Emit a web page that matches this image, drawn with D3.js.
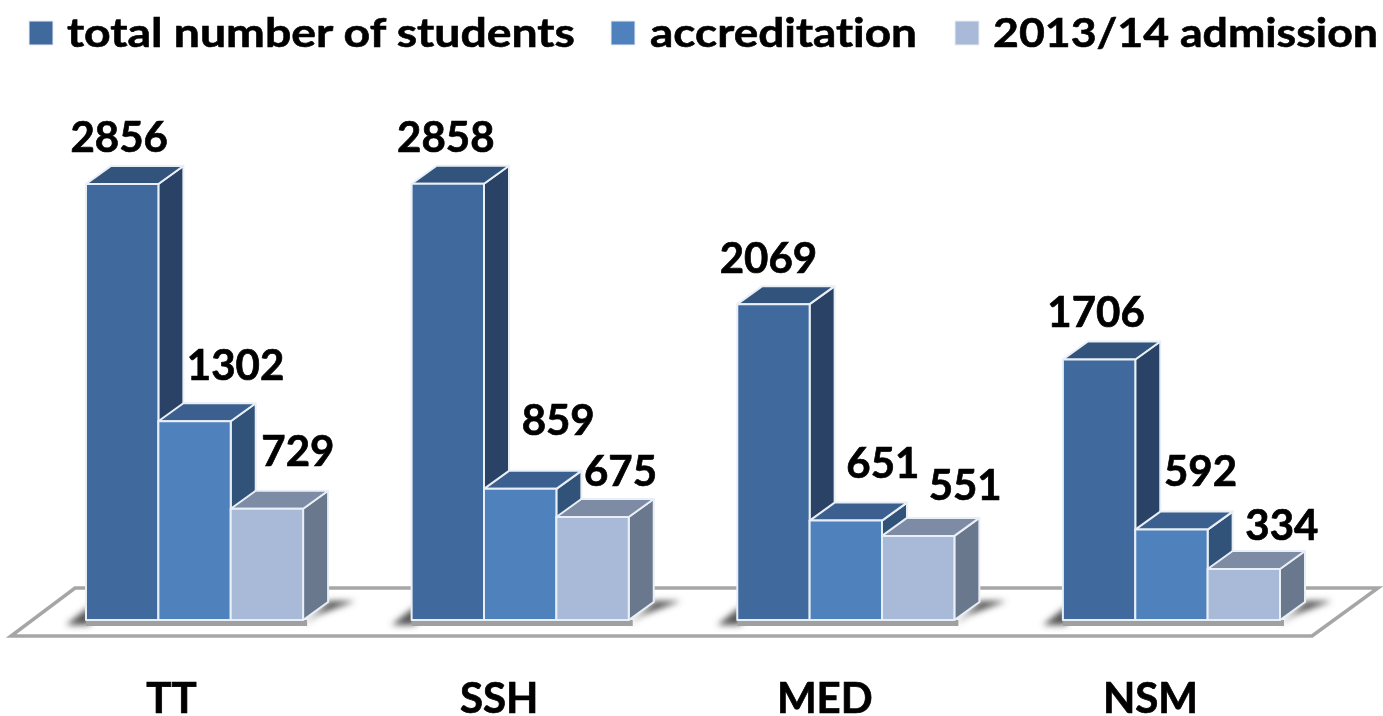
<!DOCTYPE html>
<html><head><meta charset="utf-8">
<script src="https://cdnjs.cloudflare.com/ajax/libs/d3/7.8.5/d3.min.js"></script>
<style>html,body{margin:0;padding:0;background:#fff;overflow:hidden}svg{display:block}text{font-variant-ligatures:none}</style>
</head><body><svg id="c" width="1383" height="716"></svg>
<script>
const categories = ["TT", "SSH", "MED", "NSM"];
const seriesNames = ["total number of students", "accreditation", "2013/14 admission"];
const totalStudents = [2856, 2858, 2069, 1706];
const accreditation = [1302, 859, 651, 592];
const admission = [729, 675, 551, 334];
const seriesValues = [totalStudents, accreditation, admission];

// layout only
const frontColors = ["#3f6a9e", "#4f81bd", "#a9b9d8"];
const topColors = ["#31527c", "#3b608f", "#7e8ba5"];
const sideColors = ["#2a4365", "#325279", "#6a788e"];
const labelNudges = [
  [[-3, -32], [41, -41], [31, -43]],
  [[-2, -32], [38, -54], [28, -31]],
  [[-5, -31], [37, -43], [47, -36]],
  [[-3, -33], [29, -44], [38, -29]]
];
const categoryShift = [-23, -21, -21, -21];
const legendLayout = [
  {sw: 29, tx: 67, w: 508},
  {sw: 611, tx: 650, w: 267},
  {sw: 955, tx: 993, w: 385}
];
const dx = 25, dy = -18, baseY = 620;
const font = "Lato, 'Open Sans', sans-serif";

const svg = d3.select("#c");
const defs = svg.append("defs");
defs.append("filter").attr("id", "soft").attr("x", "-5%").attr("y", "-5%").attr("width", "110%").attr("height", "110%")
  .append("feGaussianBlur").attr("stdDeviation", 0.6);
defs.append("filter").attr("id", "shadow").attr("x", "-40%").attr("y", "-60%").attr("width", "180%").attr("height", "220%")
  .append("feGaussianBlur").attr("stdDeviation", 3);

const root = svg.append("g").attr("filter", "url(#soft)");

const x0 = d3.scaleBand().domain(categories).range([86, 1280]).paddingInner(1 / 3);
const x1 = d3.scaleBand().domain(d3.range(3)).range([0, x0.bandwidth()]);
const y = d3.scaleLinear().domain([0, 2856]).range([baseY, 184]);

// floor
root.append("polygon")
  .attr("points", [[11, 636], [1312, 636], [1378, 588], [75, 588]].join(" "))
  .attr("fill", "#fff").attr("stroke", "#a6a6a6").attr("stroke-width", 3.5);

// shadows under bars
const shadowG = root.append("g");
categories.forEach(c => {
  const l = x0(c), r = l + x0.bandwidth();
  shadowG.append("polygon")
    .attr("points", [[r, 625], [r + 26, 601], [r + 52, 601], [r + 14, 615]].join(" "))
    .attr("fill", "#555").attr("filter", "url(#shadow)");
  shadowG.append("polygon")
    .attr("points", [[l - 20, 625], [l + 4, 625], [l + 4, 606]].join(" "))
    .attr("fill", "#555").attr("filter", "url(#shadow)");
  shadowG.append("rect").attr("x", l).attr("y", 620).attr("width", x0.bandwidth() + 4).attr("height", 6).attr("fill", "#a0a0a0");
});

// bars
const groups = root.selectAll("g.cat").data(categories).join("g").attr("class", "cat")
  .attr("transform", c => `translate(${x0(c)},0)`);
groups.each(function (c, ci) {
  const g = d3.select(this);
  seriesValues.forEach((vals, si) => {
    const v = vals[ci], l = x1(si), r = l + x1.bandwidth(), t = y(v), b = y(0);
    const edge = {stroke: "#e9eff6", "stroke-width": 2, "stroke-linejoin": "round"};
    const side = g.append("polygon").attr("points", [[r, t], [r + dx, t + dy], [r + dx, b + dy], [r, b]].join(" ")).attr("fill", sideColors[si]);
    const top = g.append("polygon").attr("points", [[l, t], [l + dx, t + dy], [r + dx, t + dy], [r, t]].join(" ")).attr("fill", topColors[si]);
    const front = g.append("rect").attr("x", l).attr("y", t).attr("width", x1.bandwidth()).attr("height", b - t).attr("fill", frontColors[si]);
    [side, top, front].forEach(s => Object.entries(edge).forEach(([k, val]) => s.attr(k, val)));
  });
});

// value labels
categories.forEach((c, ci) => {
  seriesValues.forEach((vals, si) => {
    const n = labelNudges[ci][si];
    root.append("text")
      .attr("x", x0(c) + x1(si) + x1.bandwidth() / 2 + n[0])
      .attr("y", y(vals[ci]) + n[1])
      .attr("text-anchor", "middle").attr("font-family", font).attr("font-weight", 700)
      .attr("stroke", "#000").attr("stroke-width", 0.7)
      .attr("font-size", 42).attr("fill", "#000").text(vals[ci]);
  });
});

// category axis
const axis = root.append("g").attr("transform", "translate(0,713)").call(d3.axisBottom(x0).tickSize(0).tickPadding(0));
axis.select(".domain").remove();
axis.selectAll(".tick text")
  .attr("dy", 0).attr("y", 0)
  .attr("x", (c, i) => categoryShift[i])
  .attr("text-anchor", "middle").attr("font-family", font).attr("font-weight", 700)
  .attr("stroke", "#000").attr("stroke-width", 0.7)
  .attr("font-size", 42).attr("fill", "#000");

// legend
seriesNames.forEach((name, i) => {
  const L = legendLayout[i];
  root.append("rect").attr("x", L.sw).attr("y", 21).attr("width", 24).attr("height", 24)
    .attr("fill", frontColors[i]).attr("stroke", "#e9eff6").attr("stroke-width", 1);
  root.append("text").attr("x", L.tx).attr("y", 47).attr("font-family", font).attr("font-weight", 700)
    .attr("stroke", "#000").attr("stroke-width", 0.6)
    .attr("font-size", 41).attr("textLength", L.w).attr("lengthAdjust", "spacingAndGlyphs").attr("fill", "#000").text(name);
});
</script></body></html>
